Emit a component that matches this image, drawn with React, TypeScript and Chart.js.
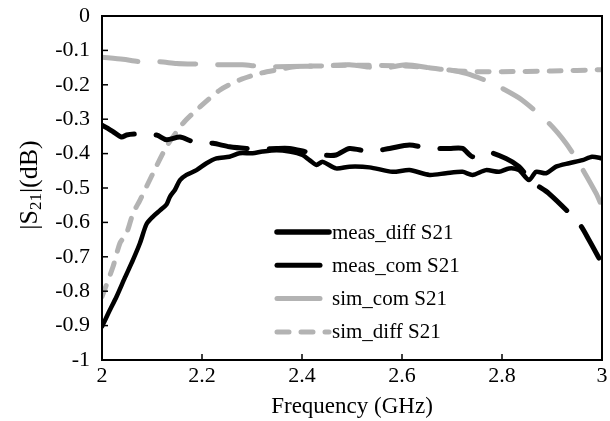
import React, { useEffect, useRef } from 'react';
import { Chart, registerables } from 'chart.js';

Chart.register(...registerables);

// ---- data ----
const measDiffFreq = [2.0, 2.014, 2.029, 2.046, 2.062, 2.076, 2.089, 2.102, 2.116, 2.129, 2.136, 2.146, 2.156, 2.169, 2.189, 2.209, 2.229, 2.255, 2.275, 2.301, 2.321, 2.349, 2.375, 2.401, 2.415, 2.429, 2.441, 2.468, 2.495, 2.535, 2.581, 2.615, 2.655, 2.688, 2.721, 2.741, 2.768, 2.794, 2.814, 2.834, 2.854, 2.868, 2.888, 2.908, 2.934, 2.961, 2.98, 3.0];
const measDiffS21 = [-0.903, -0.86, -0.816, -0.76, -0.709, -0.66, -0.605, -0.583, -0.565, -0.548, -0.525, -0.505, -0.477, -0.462, -0.448, -0.428, -0.414, -0.409, -0.399, -0.399, -0.394, -0.39, -0.394, -0.404, -0.419, -0.433, -0.424, -0.443, -0.438, -0.44, -0.453, -0.448, -0.462, -0.457, -0.453, -0.462, -0.448, -0.453, -0.443, -0.448, -0.477, -0.453, -0.457, -0.438, -0.428, -0.419, -0.409, -0.414];

const measComFreq = [2.0, 2.022, 2.039, 2.049, 2.069, 2.109, 2.129, 2.156, 2.182, 2.222, 2.255, 2.289, 2.321, 2.349, 2.375, 2.409, 2.441, 2.468, 2.495, 2.535, 2.575, 2.615, 2.655, 2.695, 2.721, 2.741, 2.768, 2.808, 2.834, 2.86, 2.894, 2.954, 2.974, 3.0];
const measComS21 = [-0.317, -0.336, -0.352, -0.346, -0.343, -0.346, -0.36, -0.352, -0.365, -0.37, -0.38, -0.385, -0.387, -0.385, -0.385, -0.395, -0.404, -0.404, -0.385, -0.394, -0.385, -0.375, -0.385, -0.385, -0.385, -0.409, -0.394, -0.414, -0.438, -0.482, -0.516, -0.603, -0.651, -0.72];

const simComFreq = [2.0, 2.042, 2.076, 2.116, 2.149, 2.196, 2.242, 2.281, 2.321, 2.375, 2.441, 2.495, 2.561, 2.608, 2.661, 2.695, 2.728, 2.774, 2.8, 2.84, 2.894, 2.928, 2.954, 2.988, 3.0];
const simComS21 = [-0.12, -0.126, -0.133, -0.133, -0.138, -0.14, -0.142, -0.142, -0.147, -0.147, -0.145, -0.142, -0.152, -0.142, -0.152, -0.157, -0.167, -0.191, -0.21, -0.244, -0.312, -0.37, -0.428, -0.515, -0.554];

const simDiffFreq = [2.0, 2.022, 2.036, 2.049, 2.062, 2.076, 2.102, 2.129, 2.162, 2.196, 2.236, 2.275, 2.315, 2.349, 2.389, 2.441, 2.5, 2.6, 2.65, 2.7, 2.75, 2.8, 2.9, 3.0];
const simDiffS21 = [-0.816, -0.729, -0.66, -0.632, -0.574, -0.535, -0.457, -0.38, -0.312, -0.264, -0.215, -0.186, -0.167, -0.157, -0.147, -0.145, -0.143, -0.145, -0.15, -0.158, -0.162, -0.162, -0.16, -0.156];

const seriesNames = ['meas_diff S21', 'meas_com S21', 'sim_com S21', 'sim_diff S21'];
const xTickValues = [2, 2.2, 2.4, 2.6, 2.8, 3];
const yTickValues = [0, -0.1, -0.2, -0.3, -0.4, -0.5, -0.6, -0.7, -0.8, -0.9, -1];
const xAxisTitle = 'Frequency (GHz)';
const yTitleParts = ['|S', '21', '|(dB)'];

const FONT = '"Liberation Serif", "Times New Roman", serif';
const BLACK = '#000000';
const GRAY = '#b3b3b3';

const toPoints = (xs: number[], ys: number[]) => xs.map((x, i) => ({ x, y: ys[i] }));
const fmt = (v: number) => {
  const n = Number(v.toFixed(1));
  return n === 0 ? '0' : String(n);
};

const decorPlugin = {
  id: 'decor',
  afterDraw(chart: any) {
    const { ctx, chartArea, scales } = chart;
    const { left, right, top, bottom } = chartArea;
    ctx.save();
    // frame
    ctx.strokeStyle = '#000';
    ctx.lineWidth = 2;
    ctx.strokeRect(left, top, right - left, bottom - top);
    // inside ticks
    ctx.lineWidth = 1.5;
    scales.x.ticks.forEach((t: any) => {
      const px = scales.x.getPixelForValue(t.value);
      ctx.beginPath();
      ctx.moveTo(px, bottom);
      ctx.lineTo(px, bottom - 6);
      ctx.stroke();
    });
    scales.y.ticks.forEach((t: any) => {
      const py = scales.y.getPixelForValue(t.value);
      ctx.beginPath();
      ctx.moveTo(left, py);
      ctx.lineTo(left + 6, py);
      ctx.stroke();
    });
    // y title with subscript
    const big = `26px ${FONT}`;
    const small = `17px ${FONT}`;
    ctx.font = big;
    const w0 = ctx.measureText(yTitleParts[0]).width;
    const w2 = ctx.measureText(yTitleParts[2]).width;
    ctx.font = small;
    const w1 = ctx.measureText(yTitleParts[1]).width;
    const total = w0 + w1 + w2;
    const cy = (top + bottom) / 2 - 3;
    ctx.translate(37, cy);
    ctx.rotate(-Math.PI / 2);
    ctx.fillStyle = '#000';
    ctx.textBaseline = 'alphabetic';
    ctx.textAlign = 'left';
    let x = -total / 2;
    ctx.font = big;
    ctx.fillText(yTitleParts[0], x, 0);
    x += w0;
    ctx.font = small;
    ctx.fillText(yTitleParts[1], x, 4);
    x += w1;
    ctx.font = big;
    ctx.fillText(yTitleParts[2], x, 0);
    ctx.restore();

    // legend
    ctx.save();
    const lx = left + 173;
    const ly0 = top + 216;
    const dy = 33.3;
    chart.data.datasets.forEach((ds: any, i: number) => {
      const y = ly0 + i * dy;
      ctx.strokeStyle = ds.borderColor;
      ctx.lineWidth = i === 0 ? 5.5 : ds.borderWidth;
      ctx.lineCap = 'round';
      ctx.setLineDash(i === 3 ? ds.borderDash : []);
      ctx.beginPath();
      ctx.moveTo(lx + 2, y);
      ctx.lineTo(lx + (i === 0 || i === 3 ? 54 : 45), y);
      ctx.stroke();
      ctx.setLineDash([]);
      ctx.fillStyle = '#000';
      ctx.font = `21px ${FONT}`;
      ctx.textBaseline = 'middle';
      ctx.textAlign = 'left';
      ctx.fillText(ds.label, lx + 57, y + 1);
    });
    ctx.restore();
  },
};

export default function App() {
  const ref = useRef<HTMLCanvasElement | null>(null);
  useEffect(() => {
    if (!ref.current) return;
    const common = {
      pointRadius: 0,
      tension: 0.25,
      borderCapStyle: 'round',
      borderJoinStyle: 'round',
    };
    const chart = new Chart(ref.current, {
      type: 'line',
      data: {
        datasets: [
          { ...common, label: seriesNames[0], data: toPoints(measDiffFreq, measDiffS21), borderColor: BLACK, borderWidth: 4.5 },
          { ...common, label: seriesNames[1], data: toPoints(measComFreq, measComS21), borderColor: BLACK, borderWidth: 5, borderDash: [36, 22] },
          { ...common, label: seriesNames[2], data: toPoints(simComFreq, simComS21), borderColor: GRAY, borderWidth: 5, borderDash: [36, 22] },
          { ...common, label: seriesNames[3], data: toPoints(simDiffFreq, simDiffS21), borderColor: GRAY, borderWidth: 5, borderDash: [12, 12] },
        ],
      },
      options: {
        responsive: false,
        animation: false,
        devicePixelRatio: 1,
        layout: { padding: { left: 0, top: 16, right: 8, bottom: 0 } },
        plugins: { legend: { display: false }, tooltip: { enabled: false } },
        scales: {
          x: {
            type: 'linear',
            min: 2,
            max: 3,
            afterBuildTicks: (s: any) => {
              s.ticks = xTickValues.map((v) => ({ value: v }));
            },
            afterFit: (s: any) => {
              s.height = 61;
              s.paddingLeft = 0;
              s.paddingRight = 0;
            },
            ticks: {
              callback: (v: any) => fmt(Number(v)),
              color: '#000',
              font: { family: FONT, size: 22 },
              padding: 3,
              maxRotation: 0,
            },
            grid: { display: false, drawTicks: false },
            border: { display: true, color: '#000', width: 2 },
            title: {
              display: true,
              text: xAxisTitle,
              color: '#000',
              font: { family: FONT, size: 23 },
              padding: { top: 0, bottom: 0 },
            },
          },
          y: {
            type: 'linear',
            min: -1,
            max: 0,
            afterBuildTicks: (s: any) => {
              s.ticks = yTickValues.map((v) => ({ value: v }));
            },
            afterFit: (s: any) => {
              s.width = 102;
              s.paddingTop = 0;
              s.paddingBottom = 0;
            },
            ticks: {
              callback: (v: any) => fmt(Number(v)),
              color: '#000',
              font: { family: FONT, size: 22 },
              padding: 12,
            },
            grid: { display: false, drawTicks: false },
            border: { display: true, color: '#000', width: 2 },
          },
        },
      },
      plugins: [decorPlugin],
    } as any);
    return () => chart.destroy();
  }, []);
  return (
    <div style={{ position: 'fixed', left: 0, top: 0, width: 610, height: 421, background: '#fff' }}>
      <canvas ref={ref} width={610} height={421} style={{ display: 'block' }} />
    </div>
  );
}
